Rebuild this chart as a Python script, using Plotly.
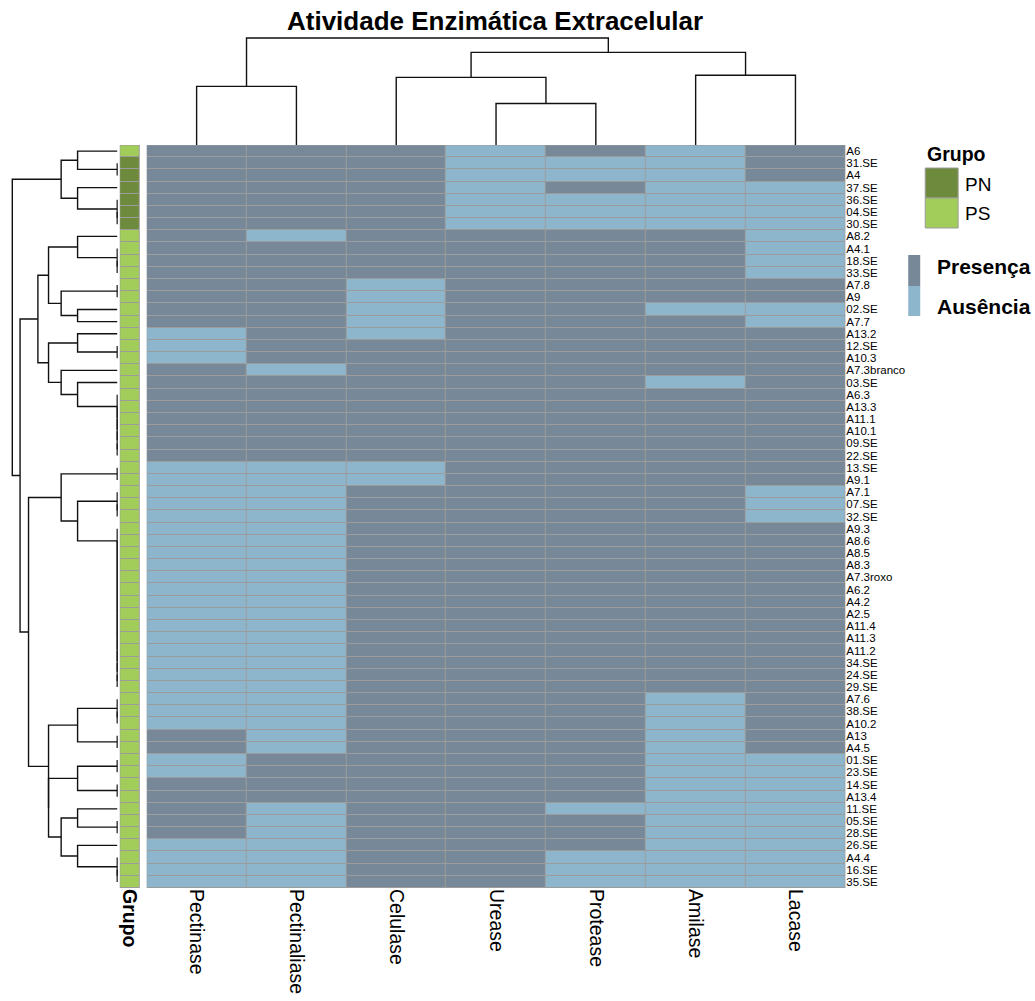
import numpy as np
import plotly.graph_objects as go

# ---------------- data ----------------
enzimas = ["Pectinase", "Pectinaliase", "Celulase", "Urease", "Protease", "Amilase", "Lacase"]

isolados = ["A6", "31.SE", "A4", "37.SE", "36.SE", "04.SE", "30.SE", "A8.2", "A4.1", "18.SE",
            "33.SE", "A7.8", "A9", "02.SE", "A7.7", "A13.2", "12.SE", "A10.3", "A7.3branco", "03.SE",
            "A6.3", "A13.3", "A11.1", "A10.1", "09.SE", "22.SE", "13.SE", "A9.1", "A7.1", "07.SE",
            "32.SE", "A9.3", "A8.6", "A8.5", "A8.3", "A7.3roxo", "A6.2", "A4.2", "A2.5", "A11.4",
            "A11.3", "A11.2", "34.SE", "24.SE", "29.SE", "A7.6", "38.SE", "A10.2", "A13", "A4.5",
            "01.SE", "23.SE", "14.SE", "A13.4", "11.SE", "05.SE", "28.SE", "26.SE", "A4.4", "16.SE",
            "35.SE"]

grupo = ["PS"] + ["PN"] * 6 + ["PS"] * 54

# 1 = Presença, 0 = Ausência  (columns in the order of `enzimas`)
presenca = [
    [1, 1, 1, 0, 1, 0, 1],  # A6
    [1, 1, 1, 0, 0, 0, 1],  # 31.SE
    [1, 1, 1, 0, 0, 0, 1],  # A4
    [1, 1, 1, 0, 1, 0, 0],  # 37.SE
    [1, 1, 1, 0, 0, 0, 0],  # 36.SE
    [1, 1, 1, 0, 0, 0, 0],  # 04.SE
    [1, 1, 1, 0, 0, 0, 0],  # 30.SE
    [1, 0, 1, 1, 1, 1, 0],  # A8.2
    [1, 1, 1, 1, 1, 1, 0],  # A4.1
    [1, 1, 1, 1, 1, 1, 0],  # 18.SE
    [1, 1, 1, 1, 1, 1, 0],  # 33.SE
    [1, 1, 0, 1, 1, 1, 1],  # A7.8
    [1, 1, 0, 1, 1, 1, 1],  # A9
    [1, 1, 0, 1, 1, 0, 0],  # 02.SE
    [1, 1, 0, 1, 1, 1, 0],  # A7.7
    [0, 1, 0, 1, 1, 1, 1],  # A13.2
    [0, 1, 1, 1, 1, 1, 1],  # 12.SE
    [0, 1, 1, 1, 1, 1, 1],  # A10.3
    [1, 0, 1, 1, 1, 1, 1],  # A7.3branco
    [1, 1, 1, 1, 1, 0, 1],  # 03.SE
    [1, 1, 1, 1, 1, 1, 1],  # A6.3
    [1, 1, 1, 1, 1, 1, 1],  # A13.3
    [1, 1, 1, 1, 1, 1, 1],  # A11.1
    [1, 1, 1, 1, 1, 1, 1],  # A10.1
    [1, 1, 1, 1, 1, 1, 1],  # 09.SE
    [1, 1, 1, 1, 1, 1, 1],  # 22.SE
    [0, 0, 0, 1, 1, 1, 1],  # 13.SE
    [0, 0, 0, 1, 1, 1, 1],  # A9.1
    [0, 0, 1, 1, 1, 1, 0],  # A7.1
    [0, 0, 1, 1, 1, 1, 0],  # 07.SE
    [0, 0, 1, 1, 1, 1, 0],  # 32.SE
    [0, 0, 1, 1, 1, 1, 1],  # A9.3
    [0, 0, 1, 1, 1, 1, 1],  # A8.6
    [0, 0, 1, 1, 1, 1, 1],  # A8.5
    [0, 0, 1, 1, 1, 1, 1],  # A8.3
    [0, 0, 1, 1, 1, 1, 1],  # A7.3roxo
    [0, 0, 1, 1, 1, 1, 1],  # A6.2
    [0, 0, 1, 1, 1, 1, 1],  # A4.2
    [0, 0, 1, 1, 1, 1, 1],  # A2.5
    [0, 0, 1, 1, 1, 1, 1],  # A11.4
    [0, 0, 1, 1, 1, 1, 1],  # A11.3
    [0, 0, 1, 1, 1, 1, 1],  # A11.2
    [0, 0, 1, 1, 1, 1, 1],  # 34.SE
    [0, 0, 1, 1, 1, 1, 1],  # 24.SE
    [0, 0, 1, 1, 1, 1, 1],  # 29.SE
    [0, 0, 1, 1, 1, 0, 1],  # A7.6
    [0, 0, 1, 1, 1, 0, 1],  # 38.SE
    [0, 0, 1, 1, 1, 0, 1],  # A10.2
    [1, 0, 1, 1, 1, 0, 1],  # A13
    [1, 0, 1, 1, 1, 0, 1],  # A4.5
    [0, 1, 1, 1, 1, 0, 0],  # 01.SE
    [0, 1, 1, 1, 1, 0, 0],  # 23.SE
    [1, 1, 1, 1, 1, 0, 0],  # 14.SE
    [1, 1, 1, 1, 1, 0, 0],  # A13.4
    [1, 0, 1, 1, 0, 0, 0],  # 11.SE
    [1, 0, 1, 1, 1, 0, 0],  # 05.SE
    [1, 0, 1, 1, 1, 0, 0],  # 28.SE
    [0, 0, 1, 1, 1, 0, 0],  # 26.SE
    [0, 0, 1, 1, 0, 0, 0],  # A4.4
    [0, 0, 1, 1, 0, 0, 0],  # 16.SE
    [0, 0, 1, 1, 0, 0, 0],  # 35.SE
]

# dendrogram topologies (leaf = row / column index in display order)
row_tree = [
    [[0, [1, 2]], [3, [4, [5, 6]]]],
    [
        [
            [[7, [8, [9, 10]]], [[11, 12], [13, 14]]],
            [[15, [16, 17]], [18, [19, [20, [21, [22, [23, [24, 25]]]]]]]],
        ],
        [
            [[26, 27], [[28, [29, 30]],
                        [31, [32, [33, [34, [35, [36, [37, [38, [39, [40, [41, [42, [43, 44]]]]]]]]]]]]]]],
            [
                [[45, [46, 47]], [48, 49]],
                [[[50, 51], [52, 53]], [[54, [55, 56]], [57, [58, [59, 60]]]]],
            ],
        ],
    ],
]
col_tree = [[0, 1], [[2, [3, 4]], [5, 6]]]

# ---------------- styling ----------------
W, H = 1035, 1001
FONT = "Liberation Sans, Arial, Helvetica, sans-serif"
C_PRES = "#778899"
C_AUS = "#8DB6CD"
C_PN = "#6E8B3D"
C_PS = "#A2CD5A"
C_BORDER = "#9C9C9C"


def fx(px):
    return px / W


def fy(py):
    return 1 - py / H


M = np.array(presenca, dtype=float)
n_rows, n_cols = M.shape


def leaves(node):
    return [node] if isinstance(node, int) else leaves(node[0]) + leaves(node[1])


def dendro(node, vec, pos_out, h_out):
    if isinstance(node, int):
        return float(node), 0.0
    pa, ha = dendro(node[0], vec, pos_out, h_out)
    pb, hb = dendro(node[1], vec, pos_out, h_out)
    A = vec[leaves(node[0])]
    B = vec[leaves(node[1])]
    h = float(np.sqrt(((A[:, None, :] - B[None, :, :]) ** 2).sum(-1)).max())  # complete linkage
    pos_out += [pa, pa, pb, pb, None]
    h_out += [ha, h, h, hb, None]
    return (pa + pb) / 2, h


r_pos, r_h = [], []
_, r_root = dendro(row_tree, M, r_pos, r_h)
c_pos, c_h = [], []
_, c_root = dendro(col_tree, M.T, c_pos, c_h)

# pixel geometry
HM_L, HM_R, HM_T, HM_B = 147, 847, 145, 888
GB_L, GB_R = 120, 140
RD_LEAF, RD_ROOT, RD_R = 117.5, 12.3, 118
CD_ROOT, CD_TOP = 38, 30

k_row = (RD_LEAF - RD_ROOT) / r_root
xr3 = [RD_LEAF / k_row, (RD_LEAF - RD_R) / k_row]
yr4 = [0, c_root * (HM_T - CD_TOP) / (HM_T - CD_ROOT)]

fig = go.Figure()

fig.add_trace(go.Heatmap(
    z=M, x=list(range(n_cols)), y=list(range(n_rows)),
    colorscale=[[0, C_AUS], [0.5, C_AUS], [0.5, C_PRES], [1, C_PRES]],
    zmin=0, zmax=1, showscale=False, xgap=1, ygap=1,
    xaxis="x", yaxis="y", hoverinfo="skip"))

gz = [[0 if g == "PN" else 1] for g in grupo]
fig.add_trace(go.Heatmap(
    z=gz, x=[0], y=list(range(n_rows)),
    colorscale=[[0, C_PN], [0.5, C_PN], [0.5, C_PS], [1, C_PS]],
    zmin=0, zmax=1, showscale=False, xgap=1, ygap=1,
    xaxis="x2", yaxis="y2", hoverinfo="skip"))

fig.add_trace(go.Scatter(x=r_h, y=r_pos, mode="lines",
                         line=dict(color="#111111", width=1.4),
                         xaxis="x3", yaxis="y3", hoverinfo="skip", showlegend=False))
fig.add_trace(go.Scatter(x=c_pos, y=c_h, mode="lines",
                         line=dict(color="#111111", width=1.4),
                         xaxis="x4", yaxis="y4", hoverinfo="skip", showlegend=False))

hm_xdom = [fx(HM_L), fx(HM_R)]
hm_ydom = [fy(HM_B), fy(HM_T)]
xr = [-0.5, n_cols - 0.5]
yr = [n_rows - 0.5, -0.5]

common = dict(showgrid=False, zeroline=False, showline=False, ticks="")

fig.update_layout(
    width=W, height=H, autosize=False,
    margin=dict(l=0, r=0, t=0, b=0),
    paper_bgcolor="white", plot_bgcolor="white",
    showlegend=False,
    font=dict(family=FONT, color="black"),
    xaxis=dict(domain=hm_xdom, range=xr, anchor="y", tickmode="array",
               tickvals=list(range(n_cols)), ticktext=enzimas, tickangle=90,
               tickfont=dict(size=19.5, family=FONT, color="black"), **common),
    yaxis=dict(domain=hm_ydom, range=yr, anchor="x", side="right", tickmode="array",
               tickvals=list(range(n_rows)), ticktext=isolados,
               tickfont=dict(size=11.5, family=FONT, color="black"), **common),
    xaxis2=dict(domain=[fx(GB_L), fx(GB_R)], range=[-0.5, 0.5], anchor="y2", tickmode="array",
                tickvals=[0], ticktext=["<b>Grupo</b>"], tickangle=90,
                tickfont=dict(size=19.5, family=FONT, color="black"), **common),
    yaxis2=dict(domain=hm_ydom, range=yr, anchor="x2", showticklabels=False, **common),
    xaxis3=dict(domain=[0, fx(RD_R)], range=xr3, anchor="y3", visible=False, **common),
    yaxis3=dict(domain=hm_ydom, range=yr, anchor="x3", visible=False, **common),
    xaxis4=dict(domain=hm_xdom, range=xr, anchor="y4", visible=False, **common),
    yaxis4=dict(domain=[fy(HM_T), fy(CD_TOP)], range=yr4, anchor="x4", visible=False, **common),
)

shapes = []
# grey grid behind heatmap cells and outer borders
for xref, yref, x1 in (("x", "y", n_cols - 0.5), ("x2", "y2", 0.5)):
    x0 = -0.5
    shapes.append(dict(type="rect", xref=xref, yref=yref, x0=x0, x1=x1, y0=-0.5, y1=n_rows - 0.5,
                       fillcolor=C_BORDER, line=dict(width=0), layer="below"))
    shapes.append(dict(type="rect", xref=xref, yref=yref, x0=x0, x1=x1, y0=-0.5, y1=n_rows - 0.5,
                       fillcolor="rgba(0,0,0,0)", line=dict(width=1, color=C_BORDER), layer="above"))

# legend: Grupo
shapes.append(dict(type="rect", xref="paper", yref="paper", x0=fx(927), x1=fx(960),
                   y0=fy(198), y1=fy(168), fillcolor=C_PN, line=dict(width=1, color=C_BORDER)))
shapes.append(dict(type="rect", xref="paper", yref="paper", x0=fx(927), x1=fx(960),
                   y0=fy(228), y1=fy(198), fillcolor=C_PS, line=dict(width=1, color=C_BORDER)))
# legend: presence colour bar
shapes.append(dict(type="rect", xref="paper", yref="paper", x0=fx(910), x1=fx(922),
                   y0=fy(286), y1=fy(255), fillcolor=C_PRES, line=dict(width=0)))
shapes.append(dict(type="rect", xref="paper", yref="paper", x0=fx(910), x1=fx(922),
                   y0=fy(316), y1=fy(286), fillcolor=C_AUS, line=dict(width=0)))
fig.update_layout(shapes=shapes)

annotations = [
    dict(text="<b>Atividade Enzimática Extracelular</b>", x=fx(496), y=fy(21),
         font=dict(size=26, family=FONT, color="black")),
    dict(text="<b>Grupo</b>", x=fx(927), y=fy(154), xanchor="left",
         font=dict(size=19.5, family=FONT, color="black")),
    dict(text="PN", x=fx(965), y=fy(184), xanchor="left",
         font=dict(size=19, family=FONT, color="black")),
    dict(text="PS", x=fx(965), y=fy(214), xanchor="left",
         font=dict(size=19, family=FONT, color="black")),
    dict(text="<b>Presença</b>", x=fx(937), y=fy(267), xanchor="left",
         font=dict(size=21, family=FONT, color="black")),
    dict(text="<b>Ausência</b>", x=fx(937), y=fy(306), xanchor="left",
         font=dict(size=21, family=FONT, color="black")),
]
for a in annotations:
    a.update(xref="paper", yref="paper", showarrow=False, yanchor=a.get("yanchor", "middle"),
             xanchor=a.get("xanchor", "center"))
fig.update_layout(annotations=annotations)

fig.write_html("out.html")
